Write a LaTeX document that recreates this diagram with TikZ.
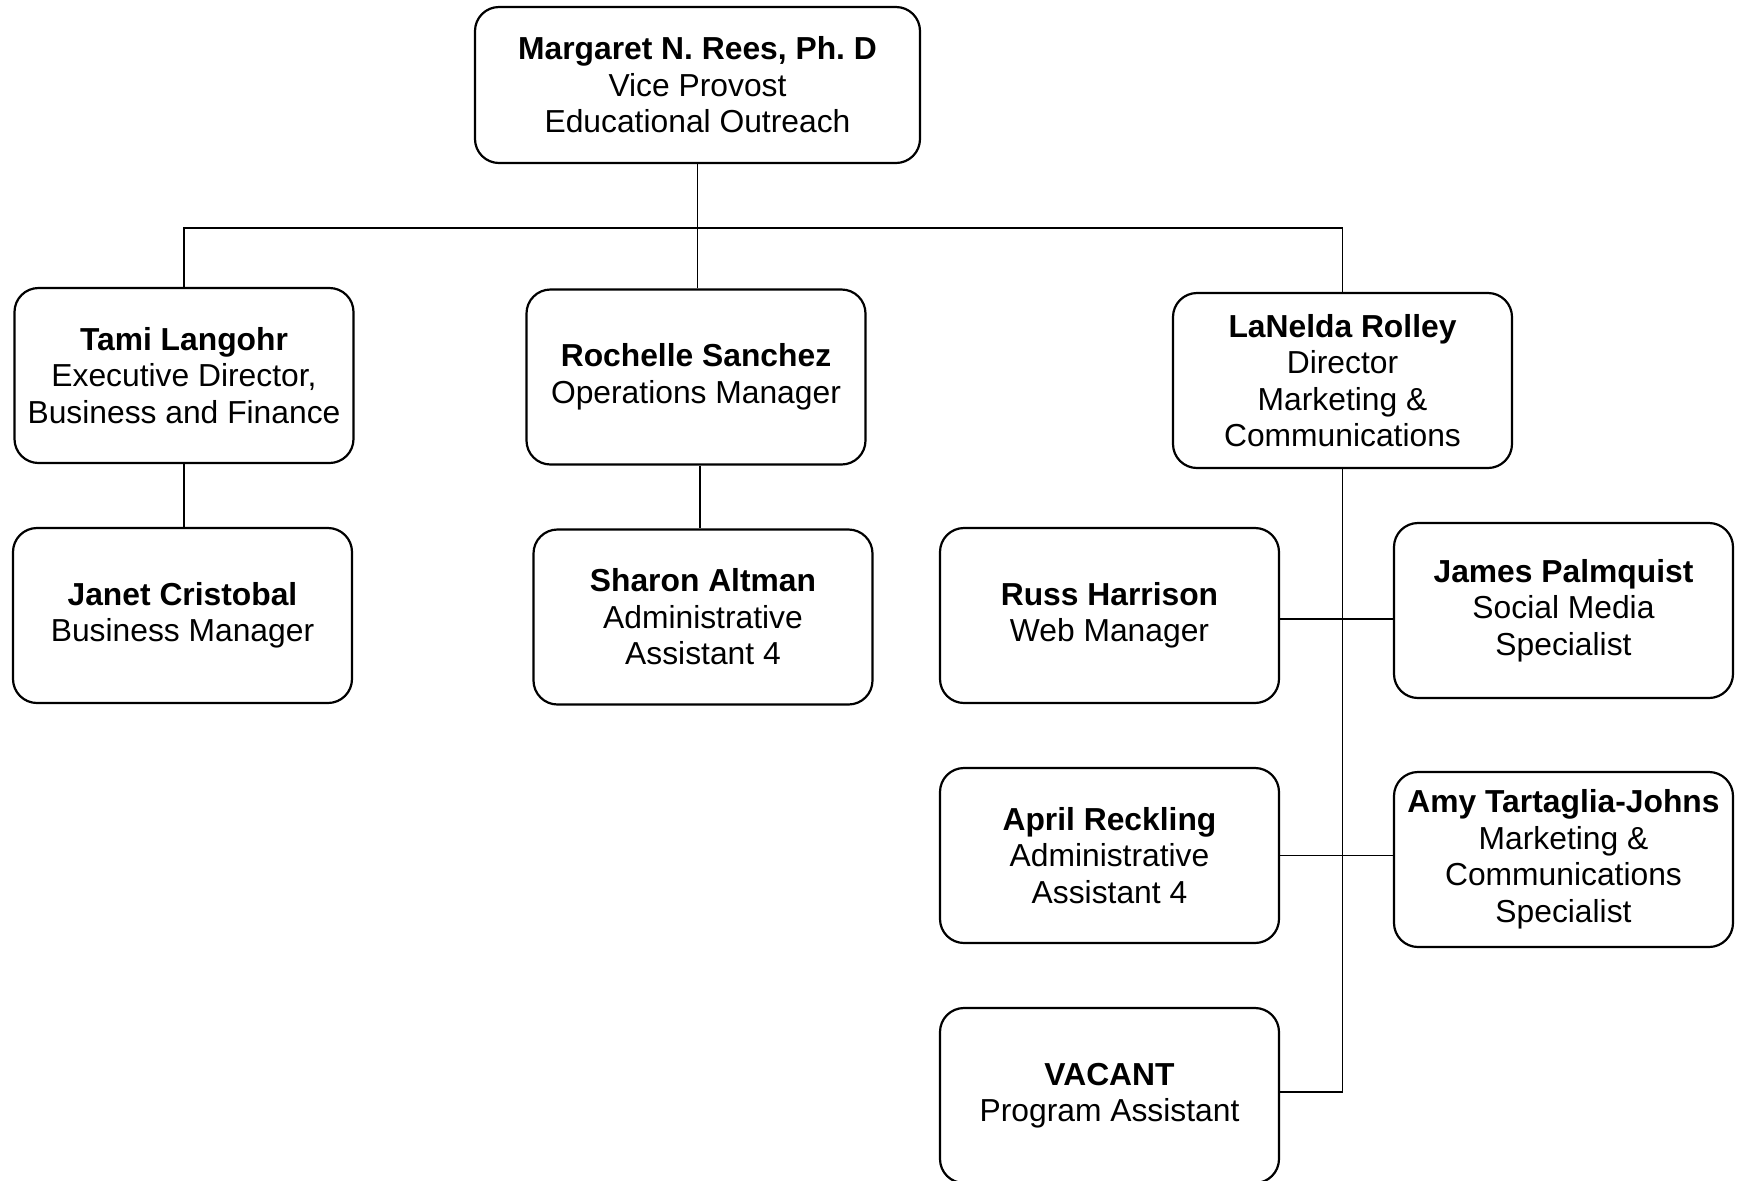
\documentclass[tikz,border=0pt]{standalone}
\usepackage{fontspec}
\setmainfont{Liberation Sans}
\frenchspacing
\begin{document}
\begin{tikzpicture}[x=0.5pt,y=-0.5pt,
  box/.style={draw, line width=1.1pt, rounded corners=12pt, align=center, inner sep=0pt,
    minimum width=169.5pt, minimum height=87.5pt, font=\fontsize{15.9pt}{18.25pt}\selectfont},
  conn/.style={line width=0.9pt}]
\useasboundingbox (0,0) rectangle (1737,1180);
\clip (0,0) rectangle (1737,1180);
\fill[white] (0,0) rectangle (1737,1180);

\node[box, minimum width=222.5pt, minimum height=78pt] (top) at (697.5,85)
  {\textbf{Margaret N. Rees, Ph. D}\\Vice Provost\\Educational Outreach};
\node[box] (tami) at (184,375.5) {\textbf{Tami Langohr}\\Executive Director,\\Business and Finance};
\node[box] (roch) at (696,377) {\textbf{Rochelle Sanchez}\\Operations Manager};
\node[box] (lan) at (1342.5,380.5) {\textbf{LaNelda Rolley}\\Director\\Marketing \&\\Communications};
\node[box] (janet) at (182.5,615.5) {\textbf{Janet Cristobal}\\Business Manager};
\node[box] (sharon) at (703,617) {\textbf{Sharon Altman}\\Administrative\\Assistant 4};
\node[box] (russ) at (1109.5,615.5) {\textbf{Russ Harrison}\\Web Manager};
\node[box] (james) at (1563.5,610.5) {\textbf{James Palmquist}\\Social Media\\Specialist};
\node[box] (april) at (1109.5,855.5) {\textbf{April Reckling}\\Administrative\\Assistant 4};
\node[box] (amy) at (1563.5,859.5) {\textbf{Amy Tartaglia-Johns}\\Marketing \&\\Communications\\Specialist};
\node[box] (vacant) at (1109.5,1095.5) {\textbf{VACANT}\\Program Assistant};

\coordinate (bus) at (0,228);
\coordinate (rj) at (0,619);
\coordinate (vy) at (0,1092);

\draw[conn] (top.south) -- (top.south |- roch.north);
\draw[conn] (tami.north) -- (tami.north |- bus) -- (lan.north |- bus) -- (lan.north);
\draw[conn] (tami.south) -- (tami.south |- janet.north);
\draw[conn] ([xshift=2pt]roch.south) -- ([xshift=2pt]roch.south |- sharon.north);
\draw[conn] (lan.south) -- (lan.south |- vy) -- (vacant.east |- vy);
\draw[conn] (russ.east |- rj) -- (james.west |- rj);
\draw[conn] (april.east) -- (april.east -| amy.west);
\end{tikzpicture}
\end{document}
